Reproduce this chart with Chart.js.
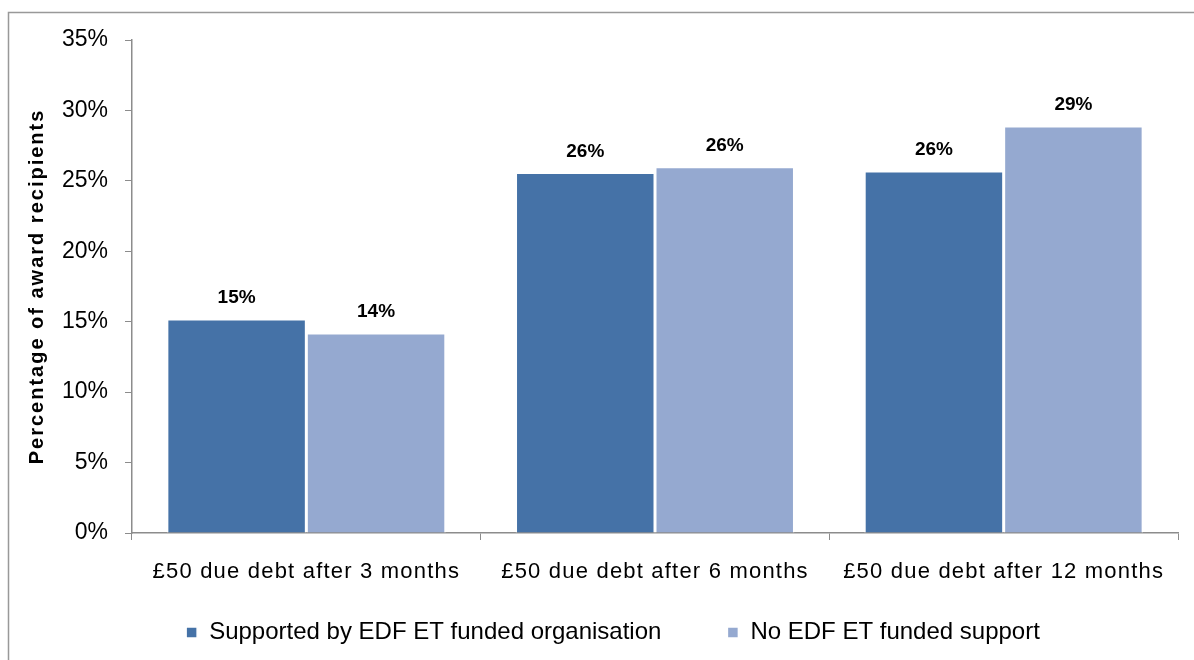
<!DOCTYPE html>
<html>
<head>
<meta charset="utf-8">
<script src="https://cdn.jsdelivr.net/npm/chart.js@4/dist/chart.umd.min.js"></script>
<style>
  html, body { margin: 0; padding: 0; background: #fff; }
  #wrap { position: relative; width: 1194px; height: 660px; }
</style>
</head>
<body>
<div id="wrap"><canvas id="chart" width="1194" height="660"></canvas></div>
<script>
// categories and series
const categories = ['£50 due debt after 3 months', '£50 due debt after 6 months', '£50 due debt after 12 months'];
const supportedValues = [15.2, 25.6, 25.7];
const noSupportValues = [14.2, 26.0, 28.9];
const seriesNames = ['Supported by EDF ET funded organisation', 'No EDF ET funded support'];
const yTicks = [0, 5, 10, 15, 20, 25, 30, 35];

const FONT = '"Liberation Sans", Arial, sans-serif';
const AXIS_GREY = '#8c8c8c';

// wraps one draw method of a scale so its text is drawn letter-spaced
function spaceOut(scale, method, spacing) {
    if (!scale || scale['_orig_' + method]) return;
    const orig = scale[method];
    scale['_orig_' + method] = orig;
    scale[method] = function (...args) {
        const ctx = this.ctx;
        ctx.save();
        ctx.letterSpacing = spacing;
        orig.apply(this, args);
        ctx.restore();
    };
}

// outer frame, spaced axis text, legend position
const framePlugin = {
    id: 'frame',
    afterLayout(chart) {
        const legend = chart.legend;
        // legend sits a bit right of the canvas centre and close under the axis labels
        const dx = 613 - (legend.left + legend.right) / 2;
        legend.left += dx;
        legend.right += dx;
        legend.top = 554.5;
        legend.bottom = chart.height;
    },
    beforeDraw(chart) {
        spaceOut(chart.scales.x, 'drawLabels', '1.2px');
        spaceOut(chart.scales.y, 'drawTitle', '2px');
        const ctx = chart.ctx;
        ctx.save();
        ctx.fillStyle = '#fff';
        ctx.fillRect(0, 0, chart.width, chart.height);
        ctx.strokeStyle = '#999';
        ctx.lineWidth = 1.5;
        ctx.strokeRect(8.5, 12.5, 1200, 700);
        ctx.restore();
    }
};

// rounded percentage labels above bars
const barLabels = {
    id: 'barLabels',
    afterDatasetsDraw(chart) {
        const ctx = chart.ctx;
        ctx.save();
        ctx.font = 'bold 19px ' + FONT;
        ctx.fillStyle = '#000';
        ctx.textAlign = 'center';
        ctx.textBaseline = 'alphabetic';
        chart.data.datasets.forEach((ds, i) => {
            chart.getDatasetMeta(i).data.forEach((bar, j) => {
                ctx.fillText(Math.round(ds.data[j]) + '%', bar.x, bar.y - 15.5);
            });
        });
        ctx.restore();
    }
};

new Chart(document.getElementById('chart'), {
    type: 'bar',
    data: {
        labels: categories,
        datasets: [{
            label: seriesNames[0],
            data: supportedValues,
            backgroundColor: '#4572A7',
            borderColor: '#ffffff',
            borderWidth: 1.5,
            categoryPercentage: 0.8,
            barPercentage: 1
        }, {
            label: seriesNames[1],
            data: noSupportValues,
            backgroundColor: '#95A9D0',
            borderColor: '#ffffff',
            borderWidth: 1.5,
            categoryPercentage: 0.8,
            barPercentage: 1
        }]
    },
    options: {
        responsive: false,
        animation: false,
        layout: {
            padding: { top: 40, right: 16, bottom: 0, left: 0 }
        },
        scales: {
            x: {
                afterFit(axis) {
                    axis.height = 54;
                },
                grid: {
                    drawOnChartArea: false,
                    color: AXIS_GREY,
                    tickLength: 7
                },
                border: { color: AXIS_GREY, width: 1.5 },
                ticks: {
                    color: '#000',
                    padding: 19,
                    font: { family: FONT, size: 22 }
                }
            },
            y: {
                min: 0,
                max: 35,
                afterBuildTicks(axis) {
                    axis.ticks = yTicks.map(v => ({ value: v }));
                },
                afterFit(axis) {
                    axis.width = 132;
                },
                grid: {
                    drawOnChartArea: false,
                    color: AXIS_GREY,
                    tickLength: 7
                },
                border: { color: AXIS_GREY, width: 1.5 },
                ticks: {
                    color: '#000',
                    padding: 17,
                    font: { family: FONT, size: 23 },
                    callback: v => v + '%'
                },
                title: {
                    display: true,
                    text: 'Percentage of award recipients',
                    color: '#000',
                    padding: { top: 25, bottom: 0 },
                    font: { family: FONT, size: 20, weight: 'bold' }
                }
            }
        },
        plugins: {
            legend: {
                position: 'bottom',
                maxHeight: 73,
                labels: {
                    color: '#000',
                    boxWidth: 11,
                    boxHeight: 11,
                    padding: 66,
                    font: { family: FONT, size: 24 }
                }
            },
            tooltip: { enabled: false }
        }
    },
    plugins: [framePlugin, barLabels]
});
</script>
</body>
</html>
